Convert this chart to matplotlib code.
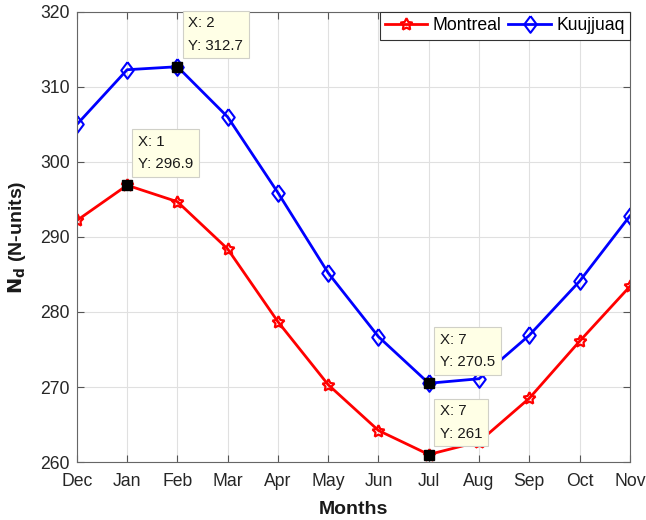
import numpy as np
import matplotlib
matplotlib.use('Agg')
import matplotlib.pyplot as plt

plt.rcParams['font.family'] = ['Liberation Sans', 'DejaVu Sans']

months = ['Dec', 'Jan', 'Feb', 'Mar', 'Apr', 'May', 'Jun',
          'Jul', 'Aug', 'Sep', 'Oct', 'Nov']
montreal = [292.2, 296.9, 294.7, 288.4, 278.7, 270.3, 264.2,
            261.0, 262.7, 268.5, 276.1, 283.4]
kuujjuaq = [305.0, 312.3, 312.7, 306.0, 295.9, 285.2, 276.7,
            270.5, 271.1, 276.9, 284.1, 292.8]

# data tips: (series, index)
tips = [(kuujjuaq, 2), (montreal, 1), (kuujjuaq, 7), (montreal, 7)]

x = np.arange(len(months))

# MATLAB-style diamond, a bit taller than wide
diamond = [(0, 1), (0.75, 0), (0, -1), (-0.75, 0), (0, 1)]

fig = plt.figure(figsize=(6.46, 5.2), dpi=100)
ax = fig.add_axes([0.119, 0.1115, 0.856, 0.8655])

ax.plot(x, montreal, '-', color='red', lw=2, marker=(5, 1, 0),
        ms=9, mfc='none', mec='red', mew=1.6, label='Montreal')
ax.plot(x, kuujjuaq, '-', color='blue', lw=2, marker=diamond,
        ms=12, mfc='none', mec='blue', mew=1.5, label='Kuujjuaq')

for ser, i in tips:
    ax.plot(x[i], ser[i], 's', color='black', ms=7.5, zorder=5)
    lab = 'X: %d\nY: %s' % (i, ('%.1f' % ser[i]).rstrip('0').rstrip('.'))
    ax.annotate(lab, (x[i], ser[i]), xytext=(11, 14), textcoords='offset pixels',
                ha='left', va='bottom', fontsize=10.8, linespacing=1.75,
                color='#1a1a1a',
                bbox=dict(boxstyle='square,pad=0.38', fc='#ffffe6', ec='#d0d0c8', lw=0.8),
                zorder=6)

ax.set_xlim(0, 11)
ax.set_ylim(260, 320)
ax.set_xticks(x)
ax.set_xticklabels(months)
ax.set_yticks(np.arange(260, 321, 10))
ax.tick_params(direction='in', top=True, right=True, labelsize=12.7,
               color='#555555', labelcolor='#262626', length=5)
ax.tick_params(axis='x', pad=8)
ax.tick_params(axis='y', pad=5)
for s in ax.spines.values():
    s.set_color('#666666')
ax.grid(True, color='#e0e0e0', lw=0.8)
ax.set_axisbelow(True)

ax.set_xlabel('Months', fontsize=14, fontweight='bold', color='#1a1a1a', labelpad=8)
ax.set_ylabel(r'$\mathbf{N_d}$ (N-units)', fontsize=14, fontweight='bold',
              color='#1a1a1a', labelpad=9)

leg = ax.legend(loc='upper right', ncol=2, fontsize=12.7, fancybox=False,
                framealpha=1, edgecolor='#333333', borderaxespad=0,
                handlelength=2.4, columnspacing=0.4, handletextpad=0.3,
                borderpad=0.3)
leg.get_frame().set_linewidth(0.8)

fig.savefig('out.png', dpi=100)
